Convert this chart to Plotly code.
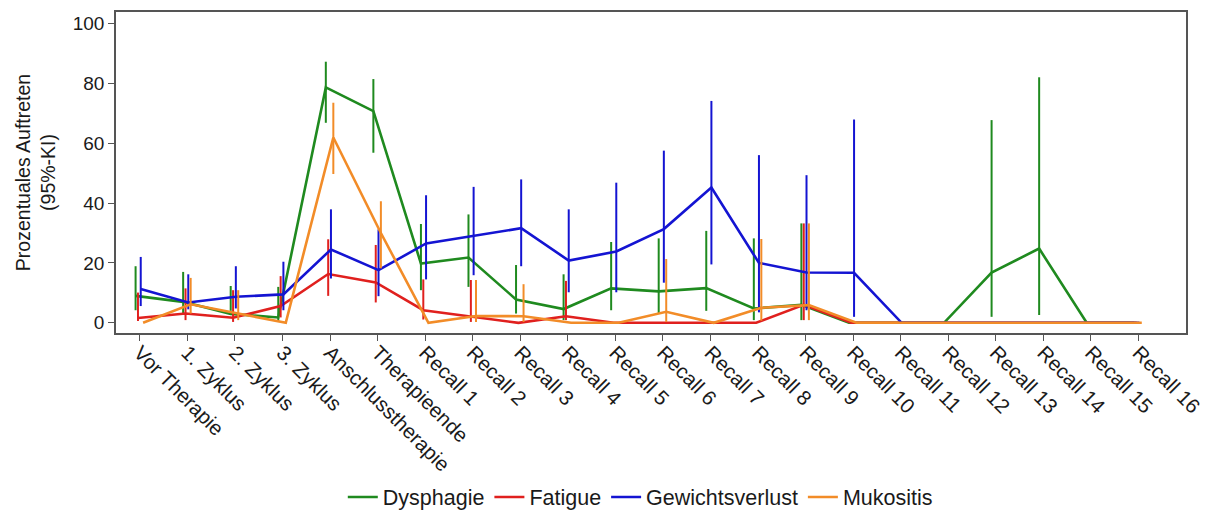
import numpy as np
import plotly.graph_objects as go

categories = ["Vor Therapie", "1. Zyklus", "2. Zyklus", "3. Zyklus", "Anschlusstherapie",
              "Therapieende"] + [f"Recall {i}" for i in range(1, 17)]

dys_val = [9.0, 7.0, 3.0, 1.8, 78.6, 70.7, 19.8, 21.8, 7.8, 4.6, 11.5, 10.5, 11.6, 4.8, 6.0, 0, 0, 0, 16.8, 24.8, 0, 0]
dys_lo  = [4.2, 3.1, 4.0, 0.3, 66.8, 56.8, 10.9, 12.0, 3.1, 0.9, 4.2, 3.1, 4.0, 0.9, 0.9, 0, 0, 0, 2.0, 2.6, 0, 0]
dys_hi  = [18.9, 17.0, 12.3, 12.0, 87.2, 81.4, 33.0, 36.2, 19.3, 16.2, 27.0, 28.2, 30.7, 28.2, 33.2, 0, 0, 0, 67.7, 82.0, 0, 0]

fat_val = [1.6, 3.1, 1.7, 5.6, 16.3, 13.5, 4.2, 2.2, 0, 2.2, 0, 0, 0, 0, 6.0, 0, 0, 0, 0, 0, 0, 0]
fat_lo  = [0.6, 0.9, 0.3, 1.8, 9.0, 6.8, 1.1, 0.3, 0, 0.9, 0, 0, 0, 0, 0.9, 0, 0, 0, 0, 0, 0, 0]
fat_hi  = [10.1, 11.5, 10.9, 15.6, 27.9, 26.0, 14.5, 14.3, 0, 14.0, 0, 0, 0, 0, 33.2, 0, 0, 0, 0, 0, 0, 0]

gew_val = [11.3, 6.8, 8.7, 9.5, 24.5, 17.6, 26.5, 29.0, 31.6, 20.8, 23.8, 31.3, 45.2, 20.0, 16.8, 16.7, 0, 0, 0, 0, 0, 0]
gew_lo  = [5.6, 4.5, 4.8, 4.2, 14.8, 8.9, 14.5, 15.9, 18.9, 10.2, 10.2, 13.4, 19.5, 3.5, 4.2, 2.0, 0, 0, 0, 0, 0, 0]
gew_hi  = [22.0, 16.2, 18.9, 20.4, 37.9, 31.2, 42.6, 45.4, 47.9, 37.9, 46.8, 57.5, 74.1, 56.0, 49.3, 67.9, 0, 0, 0, 0, 0, 0]

muk_val = [0, 6.2, 3.1, 0, 61.9, 30.0, 0, 2.3, 2.2, 0, 0, 3.7, 0, 5.0, 5.9, 0, 0, 0, 0, 0, 0, 0]
muk_lo  = [0, 3.1, 0.9, 0, 49.7, 18.2, 0, 0.3, 0.3, 0, 0, 0.3, 0, 0.7, 0.9, 0, 0, 0, 0, 0, 0, 0]
muk_hi  = [0, 15.0, 10.9, 0, 73.5, 40.6, 0, 14.3, 12.9, 0, 0, 21.3, 0, 28.0, 33.2, 0, 0, 0, 0, 0, 0, 0]

series = [
    ("Dysphagie", dys_val, dys_lo, dys_hi, "#1f8a1f", -0.088),
    ("Fatigue", fat_val, fat_lo, fat_hi, "#e0201e", -0.038),
    ("Gewichtsverlust", gew_val, gew_lo, gew_hi, "#1414d2", 0.02),
    ("Mukositis", muk_val, muk_lo, muk_hi, "#f28c28", 0.07),
]

FONT = "Liberation Sans, Arial, sans-serif"
fig = go.Figure()
base = np.arange(len(categories))
for name, val, lo, hi, col, off in series:
    v = np.array(val, float)
    fig.add_trace(go.Scatter(
        x=base + off, y=v, mode="lines", name=name,
        line=dict(color=col, width=2.6),
        error_y=dict(type="data", symmetric=False,
                     array=np.array(hi) - v, arrayminus=v - np.array(lo),
                     width=0, thickness=2, color=col),
    ))

axis_col = "#555555"
fig.update_layout(
    width=1206, height=512,
    margin=dict(l=116, r=20, t=12, b=179, autoexpand=False),
    paper_bgcolor="white", plot_bgcolor="white",
    font=dict(family=FONT, size=19, color="#1a1a1a"),
    showlegend=True,
    legend=dict(orientation="h", x=0.49, xanchor="center", y=-0.511, yanchor="middle",
                font=dict(size=21.5), itemwidth=30, traceorder="normal"),
    xaxis=dict(range=[-0.5, 22.0], tickmode="array", tickvals=list(base), ticktext=categories,
               tickangle=45, showline=True, linecolor=axis_col, linewidth=1.5, mirror=True,
               ticks="outside", ticklen=6, tickcolor=axis_col, showgrid=False, zeroline=False,
               tickfont=dict(size=20.5), automargin=False, ticklabelstandoff=-8),
    yaxis=dict(range=[-3.4, 103.8], tickvals=[0, 20, 40, 60, 80, 100],
               showline=True, linecolor=axis_col, linewidth=1.5, mirror=True,
               ticks="outside", ticklen=6, tickcolor=axis_col, showgrid=False, zeroline=False,
               tickfont=dict(size=19), automargin=False,
               title=dict(text="Prozentuales Auftreten<br>(95%-KI)", font=dict(size=19.5), standoff=12)),
)

fig.write_html("out.html")
